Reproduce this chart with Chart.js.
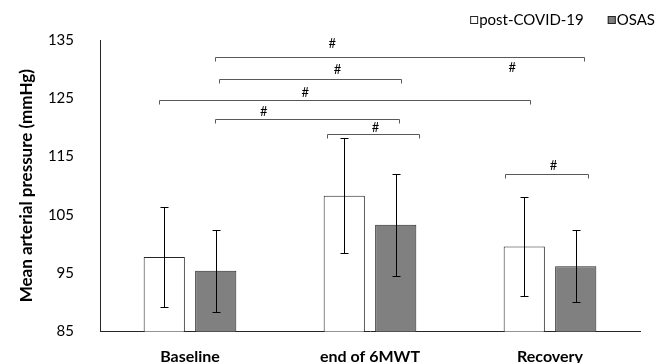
<!DOCTYPE html>
<html>
<head>
<meta charset="utf-8">
<script src="https://cdn.jsdelivr.net/npm/chart.js@4/dist/chart.umd.min.js"></script>
<style>
  html, body { margin: 0; padding: 0; background: #fff; }
  #can { width: 656px; height: 363px; }
</style>
</head>
<body>
<div id="can"><canvas id="myChart" width="656" height="363"></canvas></div>
<script>
// chart data
var categories = ['Baseline', 'end of 6MWT', 'Recovery'];
var seriesNames = ['post-COVID-19', 'OSAS'];
var postMean = [97.8, 108.3, 99.6];
var postSD = [8.6, 9.9, 8.5];
var osasMean = [95.4, 103.3, 96.2];
var osasSD = [7.0, 8.8, 6.2];
var yTicks = [85, 95, 105, 115, 125, 135];

// significance brackets (x in category index units, y in mmHg)
var bracketFrom = [0.14, 0.16, -0.17, 0.14, 0.76, 1.75];
var bracketTo = [2.19, 1.17, 1.89, 1.16, 1.27, 2.21];
var bracketLevel = [132.0, 128.3, 124.7, 121.4, 118.9, 112.0];
var markX = [0.79, 0.82, 1.79, 0.64, 0.41, 1.03, 2.02];
var markY = [134.3, 129.9, 130.3, 126.0, 122.7, 120.0, 113.4];
var markText = '#';

var FONT = 'Lato, "Open Sans", sans-serif';
var sdList = [postSD, osasSD];

// x pixel for a fractional category position
function catX(xs, u) {
    var p0 = xs.getPixelForValue(0);
    var p1 = xs.getPixelForValue(1);
    return p0 + u * (p1 - p0);
}

var extras = {
    id: 'extras',
    afterDatasetsDraw: function(chart) {
        var ctx = chart.ctx;
        var xs = chart.scales.x;
        var ys = chart.scales.y;
        ctx.save();
        // error bars
        ctx.strokeStyle = '#000';
        ctx.lineWidth = 1;
        chart.data.datasets.forEach(function(ds, di) {
            var meta = chart.getDatasetMeta(di);
            meta.data.forEach(function(bar, i) {
                var x = Math.round(bar.x) + 0.5;
                var top = Math.round(ys.getPixelForValue(ds.data[i] + sdList[di][i])) + 0.5;
                var bot = Math.round(ys.getPixelForValue(ds.data[i] - sdList[di][i])) + 0.5;
                ctx.beginPath();
                ctx.moveTo(x, top); ctx.lineTo(x, bot);
                ctx.moveTo(x - 4, top); ctx.lineTo(x + 4, top);
                ctx.moveTo(x - 4, bot); ctx.lineTo(x + 4, bot);
                ctx.stroke();
            });
        });
        // brackets
        ctx.strokeStyle = '#595959';
        for (var b = 0; b < bracketFrom.length; b++) {
            var y = Math.round(ys.getPixelForValue(bracketLevel[b])) + 0.5;
            var x1 = Math.round(catX(xs, bracketFrom[b])) + 0.5;
            var x2 = Math.round(catX(xs, bracketTo[b])) + 0.5;
            ctx.beginPath();
            ctx.moveTo(x1, y + 4); ctx.lineTo(x1, y); ctx.lineTo(x2, y); ctx.lineTo(x2, y + 4);
            ctx.stroke();
        }
        ctx.fillStyle = '#000';
        ctx.font = '13px ' + FONT;
        ctx.textAlign = 'center';
        ctx.textBaseline = 'middle';
        for (var m = 0; m < markX.length; m++) {
            ctx.fillText(markText, catX(xs, markX[m]), ys.getPixelForValue(markY[m]));
        }
        // legend, right aligned at top
        ctx.font = '15px ' + FONT;
        ctx.textAlign = 'left';
        var right = 655;
        for (var k = chart.data.datasets.length - 1; k >= 0; k--) {
            var ds = chart.data.datasets[k];
            var w = ctx.measureText(ds.label).width;
            var tx = right - w;
            ctx.fillStyle = '#000';
            ctx.fillText(ds.label, tx, 20);
            var bx = tx - 9;
            ctx.fillStyle = ds.backgroundColor;
            ctx.fillRect(bx, 16, 8, 8);
            ctx.strokeStyle = ds.borderColor;
            ctx.strokeRect(bx + 0.5, 16.5, 7, 7);
            right = bx - 24;
        }
        ctx.restore();
    }
};

var ctx = document.getElementById('myChart').getContext('2d');
var myChart = new Chart(ctx, {
    type: 'bar',
    data: {
        labels: categories,
        datasets: [{
            label: seriesNames[0],
            data: postMean,
            backgroundColor: '#ffffff',
            borderColor: '#262626',
            borderWidth: 1
        }, {
            label: seriesNames[1],
            data: osasMean,
            backgroundColor: '#808080',
            borderColor: '#262626',
            borderWidth: 1
        }]
    },
    options: {
        responsive: false,
        animation: false,
        categoryPercentage: 0.572,
        barPercentage: 0.8,
        layout: { padding: { top: 40, right: 0, bottom: 0, left: 0 } },
        plugins: {
            legend: { display: false },
            tooltip: { enabled: false }
        },
        scales: {
            x: {
                grid: { display: false },
                border: { display: true, color: '#262626' },
                ticks: { color: '#000', padding: 8, font: { family: FONT, size: 16, weight: 'bold' } },
                afterFit: function(s) { s.height = 31.5; }
            },
            y: {
                min: yTicks[0],
                max: yTicks[yTicks.length - 1],
                grid: { display: false },
                border: { display: true, color: '#262626' },
                afterBuildTicks: function(s) { s.ticks = yTicks.map(function(v) { return { value: v }; }); },
                ticks: { color: '#000', padding: 18, font: { family: FONT, size: 15 } },
                title: {
                    display: true,
                    text: 'Mean arterial pressure (mmHg)',
                    color: '#000',
                    font: { family: FONT, size: 17, weight: 'bold' },
                    padding: { top: 16, bottom: 0 }
                },
                afterFit: function(s) { s.width = 100; }
            },
            // empty axis to keep room on the right
            y2: {
                position: 'right',
                grid: { display: false },
                border: { display: false },
                ticks: { display: false },
                afterFit: function(s) { s.width = 16; }
            }
        }
    },
    plugins: [extras]
});
</script>
</body>
</html>
